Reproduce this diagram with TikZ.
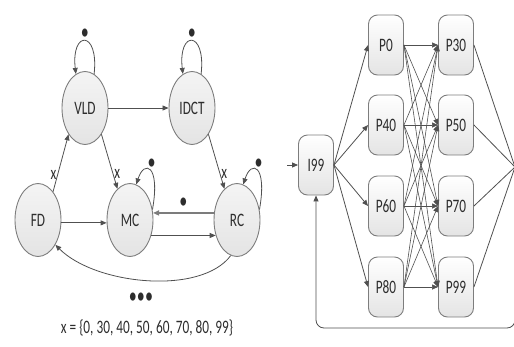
\documentclass[tikz,border=0pt]{standalone}
\usepackage{fontspec}
\setmainfont{Carlito}[FakeStretch=0.7]
\usetikzlibrary{arrows.meta,shapes.geometric}
\definecolor{LineGray}{RGB}{80,80,80}
\definecolor{EdgeGray}{RGB}{125,125,125}
\definecolor{FillGray}{RGB}{228,228,228}
\definecolor{TextGray}{RGB}{45,45,45}

\begin{document}
\begin{tikzpicture}[x=1pt,y=1pt,font=\fontsize{19}{19}\selectfont,text=TextGray,
  task/.style={ellipse,draw=EdgeGray,line width=.9pt,top color=white!60!FillGray,bottom color=FillGray,minimum width=46pt,minimum height=73pt,inner sep=0pt},
  frame/.style={rectangle,rounded corners=9pt,draw=EdgeGray,line width=.9pt,top color=white,bottom color=FillGray,minimum width=35pt,minimum height=60pt,inner sep=0pt},
  arr/.style={draw=LineGray,line width=.8pt,-{Triangle[length=6pt,width=5pt]}},
  lbl/.style={inner sep=1pt},
  dot/.style={inner sep=0pt,font=\fontsize{23}{23}\selectfont}]
\useasboundingbox (0,-346) rectangle (514,0);\clip (0,-346) rectangle (514,0);
% decoder tasks
\node[task] (VLD) at (85,-108) {VLD};\node[task] (IDCT) at (192,-108) {IDCT};
\node[task] (FD) at (38,-220) {FD};\node[task] (MC) at (130,-220) {MC};\node[task] (RC) at (237,-220) {RC};
\draw[arr] (VLD) -- (IDCT);
\draw[arr] (FD.62) -- (VLD.238) node[lbl,pos=.3,left] (xfd) {x};
\draw[arr] (VLD.-58) -- (MC.112) node[lbl,pos=.72,right] (xmc) {x};
\draw[arr] (IDCT.-58) -- (RC.112) node[lbl,pos=.72,right] (xrc) {x};
\draw[arr] (FD.-7) -- (MC.187);\draw[arr] (MC.-36) -- (RC.216);
\draw[arr,draw=LineGray!75,line width=1.5pt] (RC.163) -- (MC.17) node[dot,midway,above=4pt] (drc) {\textbullet};
\draw[arr] (RC.260) .. controls +(-30,-40) and +(40,-40) .. (FD.-55);
% self loops
\draw[arr] (VLD.75) .. controls +(5,44) and +(-5,44) .. (VLD.105) node[dot,pos=.5,above=1pt] (dvld) {\textbullet};
\draw[arr] (IDCT.75) .. controls +(5,44) and +(-5,44) .. (IDCT.105) node[dot,pos=.5,above=1pt] (didct) {\textbullet};
\draw[arr] (MC.25) .. controls +(8,45) and +(8,25) .. (MC.80) node[dot,pos=.45,above=2pt] (dmc) {\textbullet};
\draw[arr] (RC.25) .. controls +(8,45) and +(8,25) .. (RC.80) node[dot,pos=.45,above=2pt] (drc2) {\textbullet};
\node[dot] (more) at (141,-298) {\textbullet\textbullet\textbullet};
\node (xset) at (147,-328) {x = \{0, 30, 40, 50, 60, 70, 80, 99\}};
% frame graph
\node[frame] (I99) at (316,-165) {I99};
\foreach \n/\y in {P0/-45,P40/-125,P60/-206,P80/-287} \node[frame] (\n) at (386,\y) {\n};
\foreach \n/\y in {P30/-45,P50/-125,P70/-206,P99/-287} \node[frame] (\n) at (456,\y) {\n};
\coordinate (in) at (287,-165);\coordinate (out) at (515,-167);\coordinate (back) at (316,-328);
\draw[arr] (in) -- (I99);
\foreach \a in {P0,P40,P60,P80} {\draw[arr] (I99.east) -- (\a.west);
  \foreach \b in {P30,P50,P70,P99} \draw[arr,line width=.6pt] (\a.east) -- (\b.west);}
\foreach \b in {P30,P50,P70,P99} \draw[LineGray,line width=.8pt] (\b.east) -- (out);
\draw[arr,rounded corners=8pt] (out) |- (back) -- (I99.south);
\end{tikzpicture}
\end{document}
